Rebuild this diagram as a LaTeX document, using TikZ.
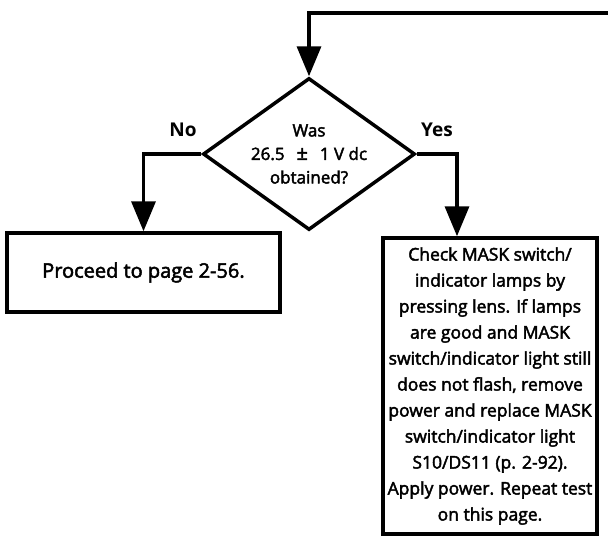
\documentclass[tikz,border=0pt]{standalone}
\usepackage{fontspec}
\setmainfont{Open Sans}
\newfontfamily\medfont{Open Sans}[FakeBold=2.5]
\usetikzlibrary{arrows.meta}
\usetikzlibrary{shapes.geometric}

\tikzset{flow/.style={line width=3.5pt,-{Triangle[length=30pt,width=24pt]}}}

\begin{document}
\begin{tikzpicture}[x=1pt,y=-1pt]
		\useasboundingbox (0,0) rectangle (608,536);
		\begin{scope}[every node/.style={draw,line width=3.5pt,inner sep=0pt,font=\medfont\fontsize{17.5}{26}\selectfont}]
			\node[diamond,minimum width=212pt,minimum height=152pt] (q) at (309,154) {};
			\node[rectangle,minimum width=273pt,minimum height=79pt,font=\medfont\fontsize{20}{24}\selectfont] (no) at (143.5,272.5) {Proceed to page 2-56.};
			\node[rectangle,minimum width=214pt,minimum height=296pt,align=center] (yes) at (490,386)
				{Check MASK switch/\\indicator lamps by\\pressing lens. If lamps\\are good and MASK\\switch/indicator light still\\does not flash, remove\\power and replace MASK\\switch/indicator light\\S10/DS11 (p. 2-92).\\Apply power. Repeat test\\on this page.};
		\end{scope}

		\node[align=center,font=\medfont\fontsize{17}{23.5}\selectfont] (qtext) at (q.center) {Was\\26.5\hspace{0.7em}{\fontsize{20}{20}\selectfont ±}\hspace{0.7em}1 V dc\\obtained?};
		\node[font=\fontsize{19}{20}\selectfont\bfseries] (nolabel) at (183,130) {No};
		\node[font=\fontsize{19}{20}\selectfont\bfseries] (yeslabel) at (437,130) {Yes};

		\coordinate (loop) at (608,13);
		\draw[flow] (loop) -| (q.north);
		\draw[flow] (q.west) -| (no.north);
		\draw[flow] (q.east) -| ([xshift=-33pt]yes.north);
\end{tikzpicture}
\end{document}
